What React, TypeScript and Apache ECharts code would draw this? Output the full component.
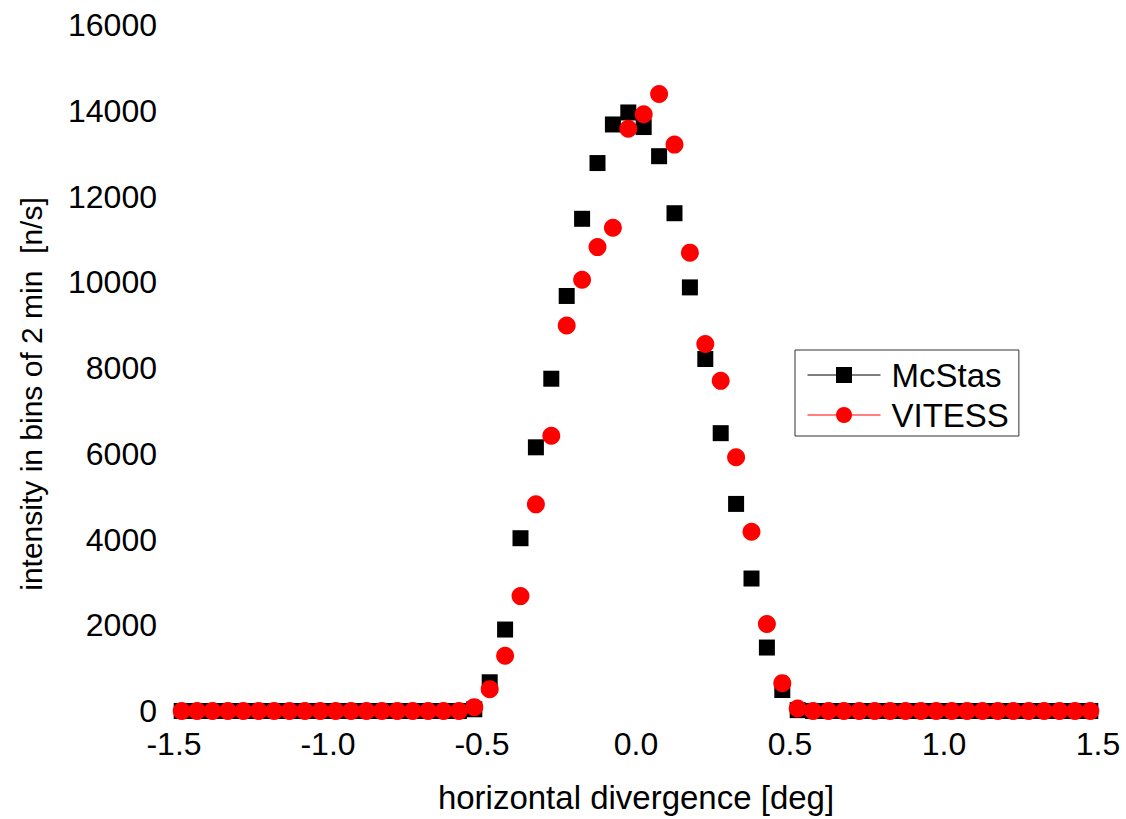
import React, { useEffect, useRef } from "react";
import * as echarts from "echarts";

// bin centres of the horizontal divergence [deg]
const divergence = [
  -1.475, -1.425, -1.375, -1.325, -1.275, -1.225, -1.175, -1.125, -1.075, -1.025,
  -0.975, -0.925, -0.875, -0.825, -0.775, -0.725, -0.675, -0.625, -0.575, -0.525,
  -0.475, -0.425, -0.375, -0.325, -0.275, -0.225, -0.175, -0.125, -0.075, -0.025,
  0.025, 0.075, 0.125, 0.175, 0.225, 0.275, 0.325, 0.375, 0.425, 0.475,
  0.525, 0.575, 0.625, 0.675, 0.725, 0.775, 0.825, 0.875, 0.925, 0.975,
  1.025, 1.075, 1.125, 1.175, 1.225, 1.275, 1.325, 1.375, 1.425, 1.475,
];

const mcstas = [
  0, 0, 0, 0, 0, 0, 0, 0, 0, 0,
  0, 0, 0, 0, 0, 0, 0, 0, 0, 40,
  670, 1900, 4030, 6150, 7750, 9680, 11480, 12780, 13680, 13960,
  13620, 12940, 11610, 9880, 8210, 6480, 4830, 3090, 1480, 490,
  20, 0, 0, 0, 0, 0, 0, 0, 0, 0,
  0, 0, 0, 0, 0, 0, 0, 0, 0, 0,
];

const vitess = [
  0, 0, 0, 0, 0, 0, 0, 0, 0, 0,
  0, 0, 0, 0, 0, 0, 0, 0, 0, 90,
  510, 1290, 2680, 4820, 6420, 8990, 10060, 10820, 11270, 13580,
  13920, 14390, 13210, 10690, 8560, 7700, 5920, 4180, 2030, 650,
  60, 0, 0, 0, 0, 0, 0, 0, 0, 0,
  0, 0, 0, 0, 0, 0, 0, 0, 0, 0,
];

const seriesNames = ["McStas", "VITESS"];
const xTitle = "horizontal divergence [deg]";
const yTitle = "intensity in bins of 2 min  [n/s]";

const FONT = "'Liberation Sans', Arial, Helvetica, sans-serif";

export default function App() {
  const ref = useRef<HTMLDivElement>(null);

  useEffect(() => {
    if (!ref.current) return;
    const chart = echarts.init(ref.current, null, { renderer: "svg" });
    const pair = (ys: number[]) => divergence.map((x, i) => [x, ys[i]]);
    chart.setOption({
      animation: false,
      backgroundColor: "#ffffff",
      textStyle: { fontFamily: FONT },
      grid: { left: 174, right: 28, top: 25, bottom: 108, containLabel: false },
      legend: {
        show: true,
        orient: "vertical",
        left: 795,
        top: 350,
        padding: [8, 10, 4, 12],
        itemGap: 6,
        itemWidth: 73,
        itemHeight: 20,
        borderColor: "#333333",
        borderWidth: 1,
        backgroundColor: "#ffffff",
        lineStyle: { width: 1, opacity: 1 },
        textStyle: { fontFamily: FONT, fontSize: 33, color: "#000", lineHeight: 34, padding: [0, 0, 0, 6] },
        data: seriesNames,
      },
      graphic: [
        {
          type: "text",
          x: 31,
          y: 394,
          rotation: Math.PI / 2,
          style: {
            text: yTitle,
            fontFamily: FONT,
            fontSize: 30,
            fill: "#000",
            align: "center",
            verticalAlign: "middle",
          },
        },
      ],
      xAxis: {
        type: "value",
        min: -1.5,
        max: 1.5,
        interval: 0.5,
        axisLine: { show: false },
        axisTick: { show: false },
        splitLine: { show: false },
        axisLabel: {
          fontFamily: FONT,
          fontSize: 32,
          color: "#000",
          margin: 17,
          formatter: (v: number) => v.toFixed(1),
        },
        name: xTitle,
        nameLocation: "middle",
        nameGap: 70,
        nameTextStyle: { fontFamily: FONT, fontSize: 33, color: "#000" },
      },
      yAxis: {
        type: "value",
        min: 0,
        max: 16000,
        interval: 2000,
        axisLine: { show: false },
        axisTick: { show: false },
        splitLine: { show: false },
        axisLabel: {
          fontFamily: FONT,
          fontSize: 32,
          color: "#000",
          margin: 17,
          formatter: (v: number) => String(v),
        },
      },
      series: [
        {
          name: seriesNames[0],
          type: "line",
          data: pair(mcstas),
          symbol: "rect",
          symbolSize: 16,
          showSymbol: true,
          showAllSymbol: true,
          itemStyle: { color: "#000000" },
          lineStyle: { color: "#000000", width: 1, opacity: 0 },
          z: 2,
        },
        {
          name: seriesNames[1],
          type: "line",
          data: pair(vitess),
          symbol: "circle",
          symbolSize: 18,
          showSymbol: true,
          showAllSymbol: true,
          itemStyle: { color: "#ff0000" },
          lineStyle: { color: "#ff0000", width: 1, opacity: 0 },
          z: 3,
        },
      ],
    });
    return () => chart.dispose();
  }, []);

  return (
    <div
      ref={ref}
      style={{ position: "fixed", left: 0, top: 0, width: 1126, height: 819, background: "#fff" }}
    />
  );
}
